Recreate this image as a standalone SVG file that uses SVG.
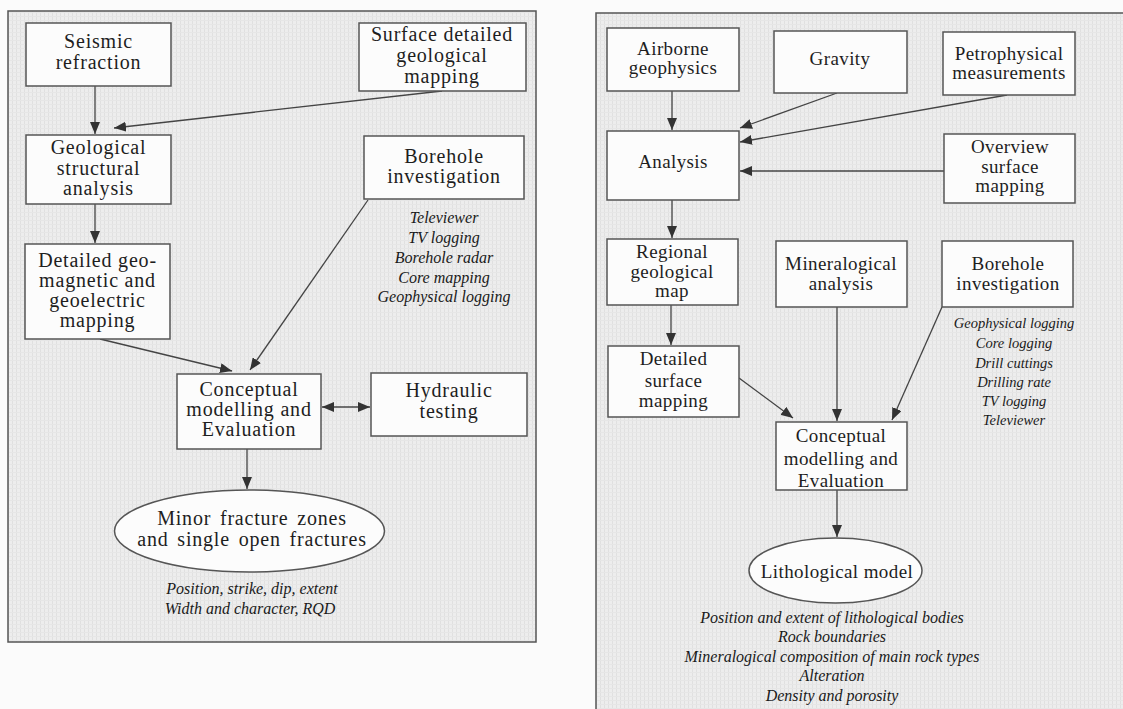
<svg xmlns="http://www.w3.org/2000/svg" width="1123" height="709" viewBox="0 0 1123 709" font-family="'Liberation Serif', 'DejaVu Serif', serif">
<defs>
<pattern id="paper" width="4" height="4" patternUnits="userSpaceOnUse">
<rect width="4" height="4" fill="#ededed"/>
<rect x="0" y="0" width="1" height="4" fill="#e0e0e0"/>
<rect x="0" y="0" width="4" height="1" fill="#e6e6e6"/>
</pattern>
<marker id="ah" viewBox="0 0 12 10" refX="12" refY="5" markerWidth="12" markerHeight="10" markerUnits="userSpaceOnUse" orient="auto-start-reverse">
<path d="M0,0 L12,5 L0,10 z" fill="#333"/>
</marker>
<style>
.panel{stroke:#555;stroke-width:1.5}
.box{fill:#fcfcfc;stroke:#555;stroke-width:1.5}
text{font-family:'Liberation Serif','DejaVu Serif',serif}
.t{fill:#1e1e1e;text-anchor:middle}
.L{font-size:20px;letter-spacing:0.8px}
.R{font-size:19px;letter-spacing:0.4px}
.i{font-style:italic;fill:#1a1a1a;text-anchor:middle}
.il{font-size:16px}
.ir{font-size:14.5px}
.ib{font-size:16px}
.c{fill:none;stroke:#444;stroke-width:1.3;marker-end:url(#ah)}
.cb{fill:none;stroke:#444;stroke-width:1.3;marker-end:url(#ah);marker-start:url(#ah)}
</style>
</defs>
<rect width="1123" height="709" fill="#fbfbfb"/>
<rect id="panel-left" class="panel" x="8" y="11" width="528" height="631" fill="url(#paper)"/>
<rect x="596" y="13" width="527" height="696" fill="url(#paper)"/>
<path id="panel-right" class="panel" d="M596,709 L596,13 L1123,13" fill="none"/>

<g id="connectors">
<line class="c" x1="95" y1="86" x2="95" y2="134"/>
<line class="c" x1="442" y1="91" x2="114" y2="128"/>
<line class="c" x1="95" y1="204" x2="95" y2="243"/>
<line class="c" x1="368" y1="200" x2="250" y2="370"/>
<line class="c" x1="100" y1="339" x2="232" y2="371"/>
<line class="cb" x1="322" y1="407" x2="370" y2="407"/>
<line class="c" x1="247" y1="449" x2="247" y2="489"/>

<line class="c" x1="672" y1="91" x2="672" y2="130"/>
<line class="c" x1="837" y1="93" x2="740" y2="128"/>
<line class="c" x1="1007" y1="95" x2="740" y2="142"/>
<line class="c" x1="944" y1="171" x2="740" y2="171"/>
<line class="c" x1="672" y1="200" x2="672" y2="238"/>
<line class="c" x1="671" y1="305" x2="671" y2="345"/>
<line class="c" x1="837" y1="307" x2="837" y2="421"/>
<line class="c" x1="942" y1="307" x2="892" y2="420"/>
<line class="c" x1="739" y1="378" x2="793" y2="418"/>
<line class="c" x1="837" y1="490" x2="837" y2="537"/>
</g>

<g id="seismic">
<rect class="box" x="26" y="23" width="145" height="63"/>
<text class="t L" x="98.5" y="48">Seismic</text>
<text class="t L" x="98.5" y="69">refraction</text>
</g>
<g id="surface-detailed">
<rect class="box" x="359" y="23" width="167" height="68"/>
<text class="t L" x="442" y="41">Surface detailed</text>
<text class="t L" x="442" y="62">geological</text>
<text class="t L" x="442" y="83">mapping</text>
</g>
<g id="geological-structural">
<rect class="box" x="26" y="135" width="145" height="69"/>
<text class="t L" x="98.5" y="154">Geological</text>
<text class="t L" x="98.5" y="175">structural</text>
<text class="t L" x="98.5" y="195">analysis</text>
</g>
<g id="borehole-left">
<rect class="box" x="364" y="136" width="160" height="63"/>
<text class="t L" x="444" y="163">Borehole</text>
<text class="t L" x="444" y="183">investigation</text>
<text class="i il" x="444" y="223">Televiewer</text>
<text class="i il" x="444" y="243">TV logging</text>
<text class="i il" x="444" y="263">Borehole radar</text>
<text class="i il" x="444" y="283">Core mapping</text>
<text class="i il" x="444" y="302">Geophysical logging</text>
</g>
<g id="detailed-geomagnetic">
<rect class="box" x="25" y="244" width="145" height="95"/>
<text class="t L" x="97.5" y="267">Detailed geo-</text>
<text class="t L" x="97.5" y="287">magnetic and</text>
<text class="t L" x="97.5" y="307">geoelectric</text>
<text class="t L" x="97.5" y="327">mapping</text>
</g>
<g id="conceptual-left">
<rect class="box" x="177" y="374" width="144" height="75"/>
<text class="t L" x="249" y="396">Conceptual</text>
<text class="t L" x="249" y="416">modelling and</text>
<text class="t L" x="249" y="436">Evaluation</text>
</g>
<g id="hydraulic">
<rect class="box" x="371" y="373" width="156" height="63"/>
<text class="t L" x="449" y="397">Hydraulic</text>
<text class="t L" x="449" y="418">testing</text>
</g>
<g id="minor-fracture">
<ellipse class="box" cx="249.5" cy="531" rx="135" ry="41"/>
<text class="t L" x="252" y="525" word-spacing="3">Minor fracture zones</text>
<text class="t L" x="252" y="546" word-spacing="3">and single open fractures</text>
<text class="i il" x="252" y="594">Position, strike, dip, extent</text>
<text class="i il" x="250" y="614">Width and character, RQD</text>
</g>

<g id="airborne">
<rect class="box" x="607" y="28" width="132" height="63"/>
<text class="t R" x="673" y="55">Airborne</text>
<text class="t R" x="673" y="74">geophysics</text>
</g>
<g id="gravity">
<rect class="box" x="774" y="31" width="133" height="62"/>
<text class="t R" x="840" y="65">Gravity</text>
</g>
<g id="petrophysical">
<rect class="box" x="943" y="32" width="132" height="63"/>
<text class="t R" x="1009" y="60">Petrophysical</text>
<text class="t R" x="1009" y="79">measurements</text>
</g>
<g id="analysis">
<rect class="box" x="607" y="131" width="132" height="69"/>
<text class="t R" x="673" y="168">Analysis</text>
</g>
<g id="overview">
<rect class="box" x="944" y="134" width="131" height="69"/>
<text class="t R" x="1010" y="153">Overview</text>
<text class="t R" x="1010" y="173">surface</text>
<text class="t R" x="1010" y="192">mapping</text>
</g>
<g id="regional">
<rect class="box" x="607" y="239" width="131" height="66"/>
<text class="t R" x="672" y="258">Regional</text>
<text class="t R" x="672" y="278">geological</text>
<text class="t R" x="672" y="297">map</text>
</g>
<g id="mineralogical">
<rect class="box" x="776" y="241" width="131" height="66"/>
<text class="t R" x="841" y="270">Mineralogical</text>
<text class="t R" x="841" y="290">analysis</text>
</g>
<g id="borehole-right">
<rect class="box" x="942" y="241" width="131" height="66"/>
<text class="t R" x="1008" y="270">Borehole</text>
<text class="t R" x="1008" y="290">investigation</text>
<text class="i ir" x="1014" y="328">Geophysical logging</text>
<text class="i ir" x="1014" y="348">Core logging</text>
<text class="i ir" x="1014" y="368">Drill cuttings</text>
<text class="i ir" x="1014" y="387">Drilling rate</text>
<text class="i ir" x="1014" y="406">TV logging</text>
<text class="i ir" x="1014" y="425">Televiewer</text>
</g>
<g id="detailed-surface">
<rect class="box" x="608" y="346" width="131" height="71"/>
<text class="t R" x="673.5" y="365">Detailed</text>
<text class="t R" x="673.5" y="387">surface</text>
<text class="t R" x="673.5" y="407">mapping</text>
</g>
<g id="conceptual-right">
<rect class="box" x="776" y="422" width="131" height="68"/>
<text class="t R" x="841" y="442">Conceptual</text>
<text class="t R" x="841" y="465">modelling and</text>
<text class="t R" x="841" y="487">Evaluation</text>
</g>
<g id="lithological">
<ellipse class="box" cx="835.5" cy="570.5" rx="86.5" ry="32.5"/>
<text class="t R" x="837" y="578">Lithological model</text>
<text class="i ib" x="832" y="623">Position and extent of lithological bodies</text>
<text class="i ib" x="832" y="642">Rock boundaries</text>
<text class="i ib" x="832" y="662">Mineralogical composition of main rock types</text>
<text class="i ib" x="832" y="681">Alteration</text>
<text class="i ib" x="832" y="701">Density and porosity</text>
</g>
</svg>
